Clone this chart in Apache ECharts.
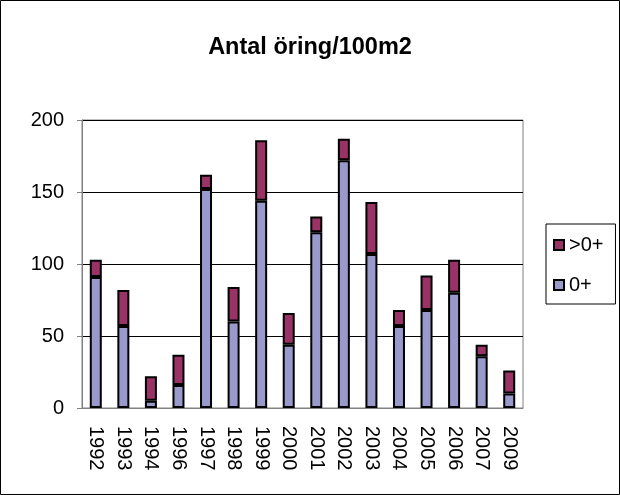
<!DOCTYPE html>
<html><head><meta charset="utf-8">
<script src="https://cdn.jsdelivr.net/npm/echarts@6/dist/echarts.min.js"></script>
<style>html,body{margin:0;padding:0;background:#fff}#c{width:620px;height:495px}</style>
</head><body><div id="c"></div>
<script>
const categories = ['1992','1993','1994','1996','1997','1998','1999','2000','2001','2002','2003','2004','2005','2006','2007','2009'];
const young = [91, 57, 5, 16, 152, 60, 144, 44, 122, 172, 107, 57, 68, 80, 36, 10];
const older = [12, 25, 17, 21, 10, 24, 42, 22, 11, 15, 36, 11, 24, 23, 8, 16];
const yTicks = [0, 50, 100, 150, 200];

const font = 'Liberation Sans, Arial, sans-serif';
const chart = echarts.init(document.getElementById('c'));
chart.setOption({
  animation: false,
  graphic: [{type:'rect', shape:{x:0.5,y:0.5,width:619,height:494}, style:{fill:'none', stroke:'#000', lineWidth:1}, silent:true}],
  title: {text:'Antal öring/100m2', left:'center', top:31, textStyle:{fontFamily:font, fontSize:23.5, fontWeight:'bold', color:'#000'}},
  legend: {
    orient:'vertical', left:546, top:224, data:['>0+','0+'],
    borderColor:'#000', borderWidth:1, padding:[11,12,9,7], itemGap:20,
    itemWidth:10, itemHeight:10, icon:'rect',
    textStyle:{fontFamily:font, fontSize:20, color:'#000'}
  },
  grid: {left:82, right:97, top:120, bottom:87, show:true, borderColor:'#808080', borderWidth:1},
  xAxis: {
    type:'category', data:categories,
    axisLine:{lineStyle:{color:'#808080'}},
    axisTick:{length:5, lineStyle:{color:'#808080'}},
    axisLabel:{rotate:-90, margin:18, fontFamily:font, fontSize:20, color:'#000', interval:0}
  },
  yAxis: {
    type:'value', min:yTicks[0], max:yTicks[yTicks.length-1], interval:50,
    axisLine:{show:true, lineStyle:{color:'#808080'}},
    axisTick:{show:true, length:5, lineStyle:{color:'#808080'}},
    axisLabel:{margin:18, fontFamily:font, fontSize:20, color:'#000'},
    splitLine:{lineStyle:{color:'#000', width:1}}
  },
  series: [
    {name:'0+', type:'bar', stack:'a', data:young, barWidth:12,
     itemStyle:{color:'#9999CC', borderColor:'#000', borderWidth:2}},
    {name:'>0+', type:'bar', stack:'a', data:older, barWidth:12,
     itemStyle:{color:'#993366', borderColor:'#000', borderWidth:2}}
  ]
});
</script></body></html>
